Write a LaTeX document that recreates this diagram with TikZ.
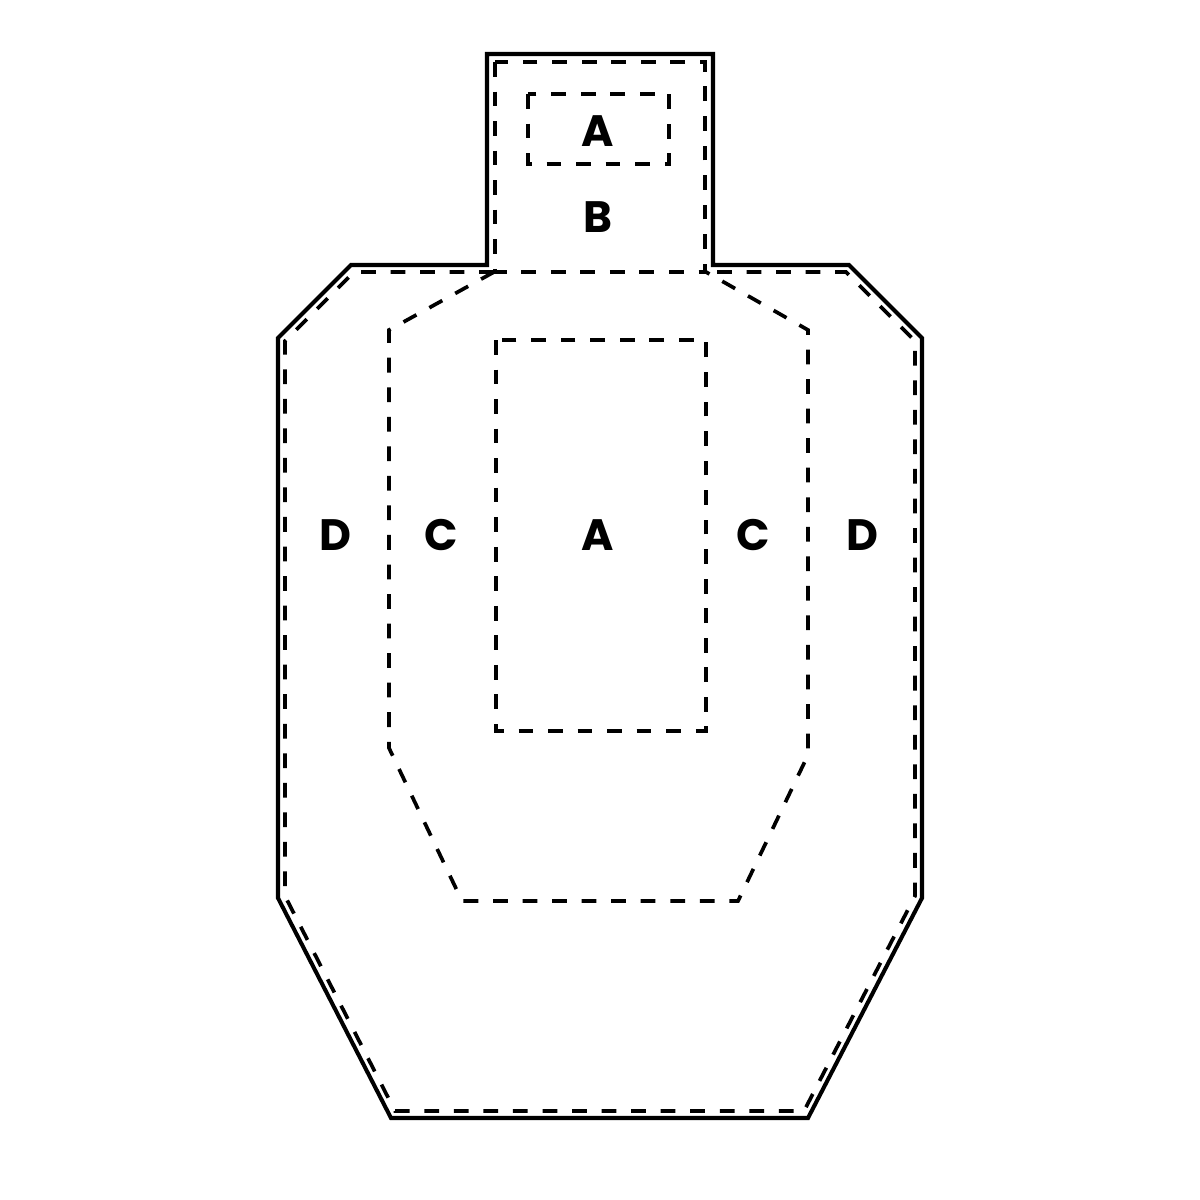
\documentclass[tikz,border=0pt]{standalone}
\usepackage{fontspec}
\setmainfont{Poppins}
\usepackage{tikz}

\tikzset{outline/.style={line width=1.15pt,line join=miter},
  zone/.style={line width=1.05pt,dash pattern=on 4.2pt off 4.2pt},
  lbl/.style={font=\fontsize{12.5}{14}\selectfont\bfseries}}

\begin{document}
\begin{tikzpicture}[x=0.01cm,y=-0.01cm]
  \useasboundingbox (0,0) rectangle (1200,1200);
   \draw[outline] (487,265) -- (487,54) -- (713,54) -- (713,265) -- (849,265) -- (922,338)
      -- (922,898) -- (808,1118) -- (391,1118) -- (278,898) -- (278,338) -- (351,265) -- cycle;
  \draw[zone] (494,272) -- (354,272) -- (285,341) -- (285,896) -- (395,1111) -- (804,1111)
      -- (915,896) -- (915,341) -- (846,272) -- (706,272);
  \draw[zone] (495,62) rectangle (705,272);
  \draw[zone] (528,94) rectangle (669,164);
	\draw[zone] (494,272) -- (389,330) -- (389,748) -- (462,901) -- (738,901) -- (808,755)
	    -- (808,330) -- (706,272);
  \draw[zone] (496,340) rectangle (706,731);

  \draw (598,131) node[lbl] (headA) {A};
  \draw (598,217) node[lbl] (headB) {B};
      \draw (335,535) node[lbl] (leftD) {D};
  \draw (441,535) node[lbl] (leftC) {C};
  \draw (598,535) node[lbl] (bodyA) {A};
  \draw (753,535) node[lbl] (rightC) {C};
      \draw (862,535) node[lbl] (rightD) {D};

\end{tikzpicture}
\end{document}
